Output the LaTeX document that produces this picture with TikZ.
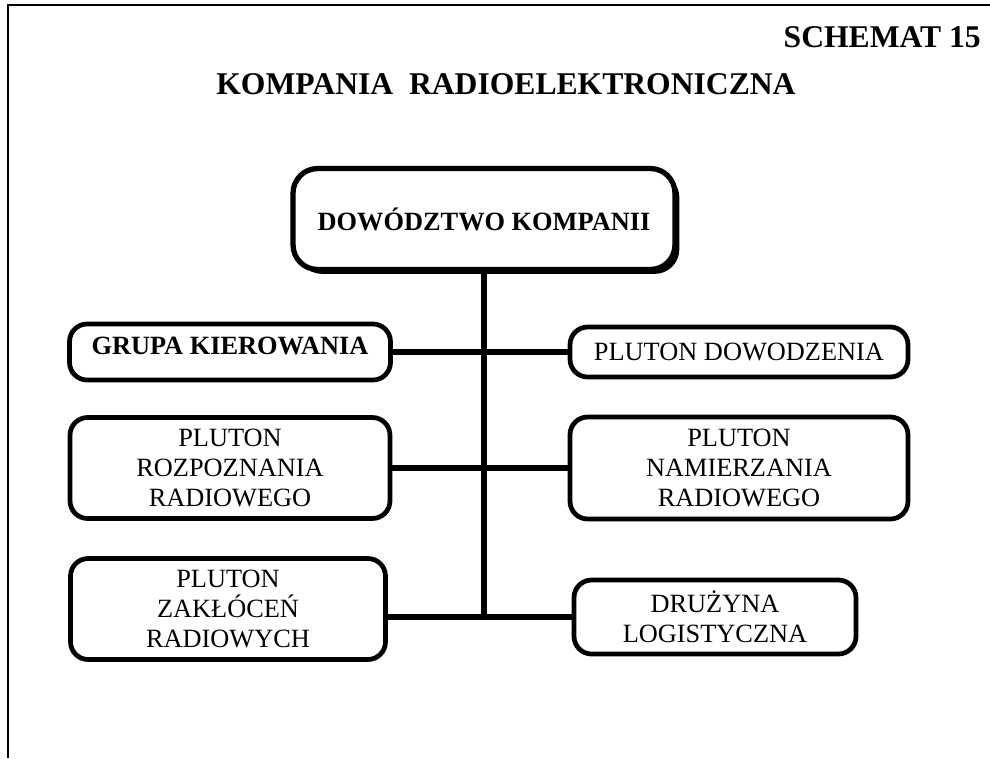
\documentclass[tikz,border=0pt]{standalone}
\usepackage{fontspec}
\setmainfont{Liberation Serif}
\usetikzlibrary{shadows}
\begin{document}
\begin{tikzpicture}[x=0.02cm,y=-0.02cm,
    unitbox/.style={draw,line width=2.7pt,rounded corners=10pt,align=center,
      inner sep=0pt,fill=white,font=\fontsize{15}{17}\selectfont},
    headbox/.style={unitbox,line width=3pt,rounded corners=14pt,
      drop shadow={shadow xshift=2.5pt,shadow yshift=-2.5pt,fill=black,opacity=1}},
    link/.style={line width=3pt}]
    \useasboundingbox (0,0) rectangle (990,758);
    % frame and headings
    \draw[line width=1pt] (8,758) -- (8,5) -- (990,5);
    \node[anchor=base east,font=\bfseries\fontsize{18}{20}\selectfont] (schemat) at (987,47) {SCHEMAT 15};
    \node[anchor=base,font=\bfseries\fontsize{18}{21}\selectfont] (title) at (506,94) {KOMPANIA\ \ RADIOELEKTRONICZNA};
    % command
    \node[headbox,minimum width=7.64cm,minimum height=2.02cm,font=\bfseries\fontsize{15}{17}\selectfont] (top) at (484,219) {DOWÓDZTWO KOMPANII};
    % left column
    \node[unitbox,minimum width=6.42cm,minimum height=1.12cm,text depth=7pt,font=\bfseries\fontsize{15}{17}\selectfont] (grupa) at (230,352) {GRUPA KIEROWANIA};
    \node[unitbox,minimum width=6.4cm,minimum height=2.02cm] (rozp) at (230,468) {PLUTON\\ROZPOZNANIA\\RADIOWEGO};
    \node[unitbox,minimum width=6.3cm,minimum height=2.02cm] (zakl) at (228,609) {PLUTON\\ZAKŁÓCEŃ\\RADIOWYCH};
    % right column
    \node[unitbox,minimum width=6.76cm,minimum height=1.0cm] (pdow) at (739,352) {PLUTON DOWODZENIA};
    \node[unitbox,minimum width=6.76cm,minimum height=2.04cm] (nami) at (739,468) {PLUTON\\NAMIERZANIA\\RADIOWEGO};
    \node[unitbox,minimum width=5.64cm,minimum height=1.48cm] (druz) at (715,617) {DRUŻYNA\\LOGISTYCZNA};
    % connectors
    \coordinate (foot) at (top.south |- druz.west);
    \draw[link] (top.south) -- (foot);
    \draw[link] (grupa) -- (pdow);
    \draw[link] (rozp) -- (nami);
    \draw[link] (zakl.east |- druz.west) -- (druz.west);
\end{tikzpicture}
\end{document}
